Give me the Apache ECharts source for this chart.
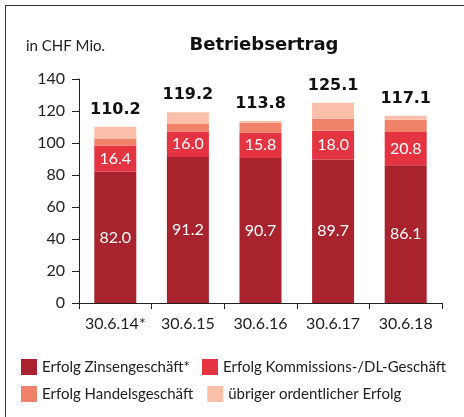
<!DOCTYPE html>
<html><head><meta charset="utf-8">
<script src="https://cdn.jsdelivr.net/npm/echarts@6/dist/echarts.min.js"></script>
<style>html,body{margin:0;padding:0;background:#fff}#c{width:464px;height:417px}</style>
</head><body><div id="c"></div>
<script>
const categories = ['30.6.14*', '30.6.15', '30.6.16', '30.6.17', '30.6.18'];
const zins = [82.0, 91.2, 90.7, 89.7, 86.1];
const kommission = [16.4, 16.0, 15.8, 18.0, 20.8];
const handel = [4.4, 5.0, 6.2, 7.4, 7.7];
const uebriger = [7.4, 7.0, 1.1, 10.0, 2.5];
const totals = [110.2, 119.2, 113.8, 125.1, 117.1];
const yTicks = [0, 20, 40, 60, 80, 100, 120, 140];
const seriesNames = ['Erfolg Zinsengeschäft*', 'Erfolg Kommissions-/DL-Geschäft', 'Erfolg Handelsgeschäft', 'übriger ordentlicher Erfolg'];
const colors = ['#a8232d', '#e43341', '#ef8269', '#f9bfa9'];

const FONT = 'Lato';
const chart = echarts.init(document.getElementById('c'), null, {renderer: 'canvas'});
const inner = {show: true, position: 'inside', color: '#fff', fontSize: 16, fontFamily: FONT, formatter: p => p.value.toFixed(1)};
const legendText = {fontSize: 15, color: '#222', fontFamily: FONT};
chart.setOption({
  animation: false,
  color: colors,
  textStyle: {fontFamily: FONT},
  title: [
    {text: 'Betriebsertrag', left: 259, top: 31, textAlign: 'center', textStyle: {fontSize: 18, fontWeight: 'bold', color: '#111', fontFamily: 'DejaVu Sans'}},
    {text: 'in CHF Mio.', left: 21, top: 34, textStyle: {fontSize: 15, fontWeight: 'normal', color: '#222', fontFamily: FONT}}
  ],
  legend: [
    {left: 16, top: 354, itemWidth: 16, itemHeight: 16, itemGap: 12, orient: 'horizontal', icon: 'rect', textStyle: legendText, data: seriesNames.slice(0, 2)},
    {left: 16, top: 381, itemWidth: 16, itemHeight: 16, itemGap: 14, orient: 'horizontal', icon: 'rect', textStyle: legendText, data: seriesNames.slice(2, 4)}
  ],
  grid: {left: 79, right: 22, top: 79, bottom: 114},
  xAxis: {
    type: 'category', data: categories,
    axisLine: {lineStyle: {color: '#222', width: 1}},
    axisTick: {show: true, length: 6, lineStyle: {color: '#222'}},
    axisLabel: {interval: 0, color: '#222', fontSize: 16, margin: 13, fontFamily: FONT}
  },
  yAxis: {
    type: 'value', min: 0, max: 140, interval: 20,
    axisLine: {show: true, lineStyle: {color: '#222'}},
    axisTick: {show: true, length: 7, lineStyle: {color: '#222'}},
    splitLine: {show: false},
    axisLabel: {color: '#222', fontSize: 16, margin: 14, fontFamily: FONT, formatter: v => yTicks.includes(v) ? String(v) : ''}
  },
  series: [
    {name: seriesNames[0], type: 'bar', stack: 't', barWidth: 42, data: zins, label: inner},
    {name: seriesNames[1], type: 'bar', stack: 't', data: kommission, label: inner},
    {name: seriesNames[2], type: 'bar', stack: 't', data: handel},
    {name: seriesNames[3], type: 'bar', stack: 't', data: uebriger,
      label: {show: true, position: 'top', distance: 9, color: '#111', fontSize: 16, fontWeight: 'bold', fontFamily: 'DejaVu Sans',
        formatter: p => totals[p.dataIndex].toFixed(1)}}
  ],
  graphic: [
    {type: 'line', shape: {x1: 5, y1: 5.5, x2: 464, y2: 5.5}, style: {stroke: '#333', lineWidth: 1}},
    {type: 'line', shape: {x1: 5.5, y1: 5, x2: 5.5, y2: 417}, style: {stroke: '#333', lineWidth: 1}}
  ]
});
</script></body></html>
